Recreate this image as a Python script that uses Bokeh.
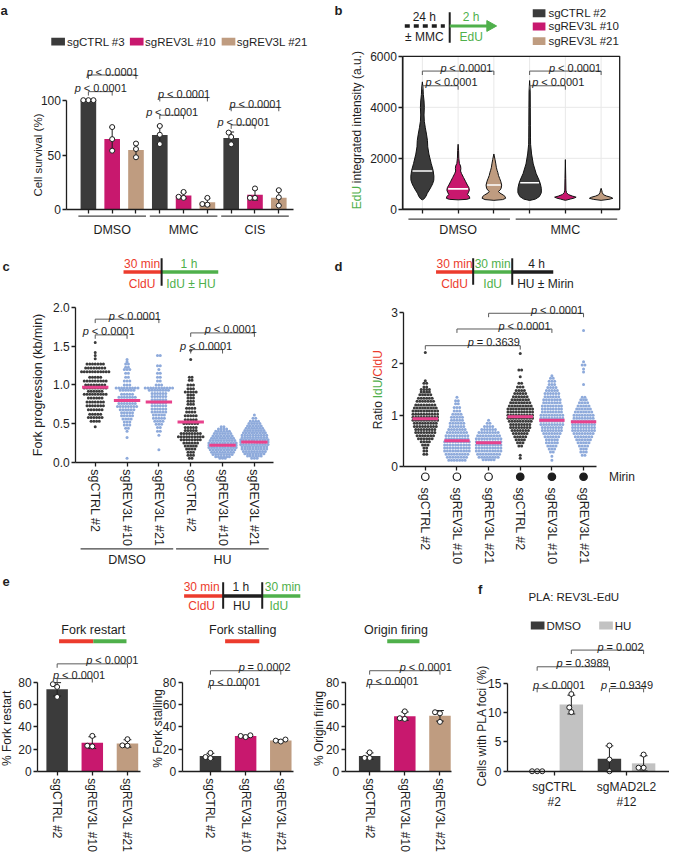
import math
import numpy as np
from bokeh.plotting import figure
from bokeh.models import Range1d, LinearAxis, FixedTicker, NumeralTickFormatter
from bokeh.layouts import row, column
from bokeh.core.properties import value
from bokeh.embed import file_html
from bokeh.resources import INLINE

# ======================= DATA =======================
# (a) cell survival (%), three replicates per bar
a_groups = ["DMSO", "MMC", "CIS"]
a_series = ["sgCTRL #3", "sgREV3L #10", "sgREV3L #21"]
a_dmso = [[100, 100, 100], [75.5, 64.5, 54.0], [60.5, 55.5, 48.0]]
a_mmc = [[76.5, 68.5, 60.0], [16.4, 12.0, 11.0], [11.0, 5.4, 4.8]]
a_cis = [[70.5, 66.5, 59.8], [19.6, 11.0, 11.0], [18.0, 11.5, 4.0]]
a_pvals = ["p < 0.0001"] * 6

# (b) EdU integrated intensity violins: intensity levels and half widths (px)
b_series = ["sgCTRL #2", "sgREV3L #10", "sgREV3L #21"]
b_groups = ["DMSO", "MMC"]
b_ctrl_dmso_y = [372, 400, 436, 520, 628, 750, 885, 1000, 1141, 1300, 1526, 1800, 2165, 2450, 2700, 2950, 3200, 3450, 3700, 4000, 4250, 4500, 4800, 5000]
b_ctrl_dmso_w = [0, 1.5, 2.3, 3.8, 5.0, 7.0, 9.0, 10.5, 11.7, 11.8, 11.0, 9.0, 6.7, 5.5, 5.2, 4.2, 3.0, 2.0, 1.7, 2.0, 1.7, 1.0, 0.6, 0]
b_r10_dmso_y = [370, 390, 430, 500, 580, 650, 750, 850, 950, 1100, 1250, 1400, 1500, 1600, 1700, 1800, 2000, 2300, 2550]
b_r10_dmso_w = [0, 9, 12, 11.5, 9.5, 10.5, 11.5, 11, 9.5, 7.5, 5.5, 3.5, 2.5, 2.8, 2.5, 1.3, 0.7, 0.5, 0]
b_r21_dmso_y = [350, 380, 430, 500, 560, 640, 700, 760, 830, 950, 1100, 1200, 1330, 1450, 1530, 1650, 1780, 1950, 2170]
b_r21_dmso_w = [0, 9, 12, 11.5, 9.5, 6, 4.7, 6.5, 7.5, 8, 7, 6, 4.7, 4, 3.3, 2.5, 2, 1.2, 0]
b_ctrl_mmc_y = [346, 400, 500, 650, 820, 1000, 1140, 1400, 1780, 2170, 2550, 2800, 3300, 4000, 4600, 5050]
b_ctrl_mmc_w = [0, 6, 10, 12, 12, 11, 9.7, 6.7, 3.7, 2, 1, 0.9, 0.8, 0.7, 0.6, 0]
b_r10_mmc_y = [350, 400, 440, 475, 520, 580, 650, 750, 1200, 1950]
b_r10_mmc_w = [0, 5, 9, 11, 7, 3, 1.2, 0.6, 0.4, 0]
b_r21_mmc_y = [350, 390, 430, 470, 520, 570, 650, 750, 821]
b_r21_mmc_w = [0, 8, 12, 10, 5.5, 2.5, 1.2, 0.6, 0]
b_medians = [1500, 800, 950, 1040, None, None]
b_pvals = ["p < 0.0001"] * 4

# (c) fork progression (kb/min): value levels and number of fibres per level
c_labels = ["sgCTRL #2", "sgREV3L #10", "sgREV3L #21"] * 2
c_groups = ["DMSO", "HU"]
c_ctrl_dmso_lv = [1.55, 1.42, 1.38, 1.34, 1.27, 1.22, 1.17, 1.10, 1.05, 1.00, 0.96, 0.92, 0.88, 0.83, 0.78, 0.73, 0.68, 0.62, 0.58, 0.53, 0.46]
c_ctrl_dmso_n = [1, 1, 1, 1, 7, 8, 11, 5, 9, 8, 9, 6, 9, 6, 7, 7, 6, 5, 6, 4, 1]
c_r10_dmso_lv = [1.33, 1.30, 1.27, 1.23, 1.20, 1.15, 1.10, 1.05, 1.00, 0.96, 0.93, 0.88, 0.84, 0.80, 0.76, 0.72, 0.68, 0.64, 0.60, 0.56, 0.52, 0.48, 0.44, 0.40, 0.32, 0.05]
c_r10_dmso_n = [1, 1, 2, 2, 3, 2, 2, 3, 3, 9, 6, 5, 7, 8, 7, 8, 6, 5, 5, 4, 3, 3, 2, 1, 1, 1]
c_r21_dmso_lv = [1.38, 1.25, 1.20, 1.15, 1.10, 1.05, 1.00, 0.96, 0.93, 0.89, 0.85, 0.81, 0.77, 0.73, 0.69, 0.65, 0.61, 0.57, 0.53, 0.49, 0.45, 0.40, 0.35, 0.16]
c_r21_dmso_n = [2, 2, 1, 2, 2, 2, 3, 11, 8, 6, 6, 6, 6, 6, 6, 6, 5, 5, 4, 3, 2, 2, 1, 1]
c_ctrl_hu_lv = [1.45, 1.33, 1.10, 1.06, 1.00, 0.95, 0.91, 0.87, 0.83, 0.79, 0.75, 0.70, 0.65, 0.60, 0.55, 0.50, 0.45, 0.41, 0.37, 0.33, 0.29, 0.25, 0.21, 0.17, 0.13, 0.09, 0.05]
c_ctrl_hu_n = [1, 1, 2, 2, 3, 3, 5, 3, 3, 3, 3, 4, 4, 5, 5, 6, 5, 5, 8, 10, 8, 6, 5, 4, 3, 3, 2]
c_r10_hu_lv = [0.46, 0.43, 0.40, 0.37, 0.34, 0.31, 0.28, 0.25, 0.22, 0.19, 0.16, 0.13, 0.10, 0.07, 0.05]
c_r10_hu_n = [2, 4, 6, 7, 8, 9, 10, 11, 11, 11, 10, 9, 8, 6, 3]
c_r21_hu_lv = [0.61, 0.57, 0.53, 0.50, 0.47, 0.44, 0.41, 0.38, 0.35, 0.32, 0.29, 0.26, 0.23, 0.20, 0.17, 0.14, 0.11, 0.08, 0.05]
c_r21_hu_n = [1, 2, 4, 5, 6, 7, 8, 9, 10, 10, 11, 11, 11, 10, 10, 9, 8, 6, 3]
c_means = [0.97, 0.80, 0.78, 0.52, 0.22, 0.26]
c_pvals = ["p < 0.0001"] * 4

# (d) ratio IdU/CldU: value levels and number of fibres per level
d_labels = ["sgCTRL #2", "sgREV3L #10", "sgREV3L #21"] * 2
d_mirin = [False, False, False, True, True, True]
d_ctrl_lv = [2.22, 1.67, 1.62, 1.55, 1.50, 1.45, 1.40, 1.33, 1.27, 1.20, 1.14, 1.08, 1.02, 0.96, 0.90, 0.84, 0.78, 0.72, 0.66, 0.60, 0.54, 0.48, 0.42, 0.36, 0.30, 0.24]
d_ctrl_n = [1, 1, 2, 2, 4, 4, 5, 6, 7, 8, 9, 10, 10, 10, 10, 9, 9, 8, 8, 7, 6, 4, 3, 2, 2, 2]
d_r10_lv = [1.35, 1.28, 1.22, 1.15, 1.08, 1.02, 0.96, 0.90, 0.84, 0.78, 0.72, 0.66, 0.60, 0.54, 0.48, 0.42, 0.36, 0.30, 0.24, 0.18, 0.12]
d_r10_n = [1, 2, 2, 3, 3, 4, 5, 5, 6, 6, 7, 8, 9, 9, 10, 10, 10, 10, 9, 8, 7]
d_r21_lv = [0.90, 0.84, 0.78, 0.72, 0.66, 0.60, 0.54, 0.48, 0.42, 0.36, 0.30, 0.24, 0.18, 0.13]
d_r21_n = [1, 2, 4, 6, 8, 9, 10, 10, 10, 10, 10, 9, 8, 5]
d_ctrlm_lv = [2.20, 1.88, 1.75, 1.62, 1.55, 1.48, 1.42, 1.36, 1.30, 1.24, 1.18, 1.12, 1.06, 1.00, 0.94, 0.88, 0.82, 0.76, 0.70, 0.64, 0.58, 0.52, 0.46, 0.40, 0.22, 0.16]
d_ctrlm_n = [1, 2, 1, 2, 3, 4, 5, 6, 7, 8, 9, 10, 10, 10, 10, 9, 8, 8, 7, 6, 5, 4, 3, 2, 1, 1]
d_r10m_lv = [1.77, 1.72, 1.66, 1.60, 1.54, 1.48, 1.42, 1.36, 1.30, 1.24, 1.18, 1.12, 1.06, 1.00, 0.94, 0.88, 0.82, 0.76, 0.70, 0.64, 0.58, 0.52, 0.46, 0.40, 0.34, 0.28, 0.20, 0.12]
d_r10m_n = [1, 2, 3, 3, 4, 5, 6, 6, 7, 7, 8, 8, 8, 9, 9, 9, 9, 8, 8, 7, 6, 5, 5, 4, 3, 2, 1, 1]
d_r21m_lv = [2.65, 2.04, 1.98, 1.90, 1.84, 1.60, 1.35, 1.30, 1.24, 1.18, 1.12, 1.06, 1.00, 0.94, 0.88, 0.82, 0.76, 0.70, 0.64, 0.58, 0.52, 0.46, 0.40, 0.34, 0.28, 0.22]
d_r21m_n = [1, 1, 2, 1, 1, 1, 2, 3, 4, 5, 6, 7, 8, 8, 9, 9, 9, 9, 8, 7, 6, 5, 4, 3, 3, 2]
d_means = [0.93, 0.50, 0.46, 0.97, 0.90, 0.87]
d_pvals = ["p = 0.3639", "p < 0.0001", "p < 0.0001"]

# (e) fork restart / stalling / origin firing (%), three replicates
e_labels = ["sgCTRL #2", "sgREV3L #10", "sgREV3L #21"]
e_titles = ["Fork restart", "Fork stalling", "Origin firing"]
e_restart = [[78.5, 76.0, 67.0], [31.9, 23.0, 22.4], [28.9, 23.3, 23.0]]
e_stalling = [[16.5, 12.8, 11.8], [32.4, 31.8, 30.8], [28.6, 27.6, 26.8]]
e_firing = [[17.0, 12.0, 12.0], [54.0, 47.8, 47.2], [53.2, 52.2, 44.5]]
e_pvals = [["p < 0.0001", "p < 0.0001"], ["p < 0.0001", "p = 0.0002"], ["p < 0.0001", "p < 0.0001"]]

# (f) PLA REV3L-EdU, cells with PLA foci (%)
f_groups = [["sgCTRL", "#2"], ["sgMAD2L2", "#12"]]
f_treat = ["DMSO", "HU"]
f_ctrl = [[0.0, 0.0, 0.0], [13.2, 10.9, 10.1]]
f_mad = [[4.4, 2.0, 0.0], [2.85, 0.6, 0.6]]
f_pvals = ["p < 0.0001", "p = 0.3989", "p = 0.002", "p = 0.9349"]

# ======================= STYLE =======================
FONT = "Liberation Sans"
INK = "#1e1e1e"
DARK = "#3b3b3b"
MAG = "#c8186e"
TAN = "#bf9c80"
LGRAY = "#c2c2c2"
BLUE = "#8eaadb"
PINK = "#e8428c"
RED = "#ec3b2d"
GREEN = "#4fb04b"
BRK = "#5a5a5a"
GRID = "#e8e8e8"
VERT = math.pi / 2

AW = {' ': .278, '<': .584, '=': .584, '.': .278, 'p': .556, 'E': .667, 'd': .556, 'U': .722,
      'R': .722, 'a': .556, 't': .278, 'i': .222, 'o': .556, 'I': .278, '/': .278, 'C': .722, 'l': .222}


def tw(s, fs):
    return sum(AW.get(ch, .556) for ch in s) * fs


def X(v):
    return int(round(v * 669 / 685))


def Y(v):
    return int(round(v * 852 / 868))


def cal(pa, va, pb, vb):
    k = (vb - va) / (pb - pa)
    return lambda q: va + (q - pa) * k


def make_panel(x0, x1, y0, y1, fx, fy):
    p = figure(width=X(x1) - X(x0), height=Y(y1) - Y(y0),
               x_range=Range1d(fx(x0), fx(x1)), y_range=Range1d(fy(y1), fy(y0)),
               x_axis_location=None, y_axis_location=None, toolbar_location=None,
               output_backend="svg", min_border=0, outline_line_color=None,
               background_fill_color="white", border_fill_color="white")
    p.extra_x_ranges = {"px": Range1d(x0, x1)}
    p.extra_y_ranges = {"py": Range1d(y1, y0)}
    p.grid.grid_line_color = None
    p.grid.visible = False
    return p


def T(p, x, y, s, size=12, color=INK, align="center", base="middle", style="normal", angle=0.0, xdata=False):
    kw = dict(y_range_name="py")
    if not xdata:
        kw["x_range_name"] = "px"
    p.text(x=[x], y=[y], text=[s], text_font=value(FONT), text_font_size=value("%gpx" % size),
           text_color=color, text_align=align, text_baseline=base, text_font_style=style,
           angle=angle, **kw)


def L(p, xs, ys, color=INK, w=1.0, dash="solid", xdata=False):
    kw = dict(y_range_name="py")
    if not xdata:
        kw["x_range_name"] = "px"
    p.line(x=xs, y=ys, line_color=color, line_width=w, line_dash=dash, **kw)


def ptext(p, xc, ypx, label, kx, fs=11):
    w = tw(label, fs)
    left = xc - w / 2.0 / kx
    common = dict(y_range_name="py", text_font=value(FONT), text_font_size=value("%gpx" % fs),
                  text_color=INK, text_align="left", text_baseline="alphabetic")
    p.text(x=[left], y=[ypx], text=[label[0]], text_font_style="italic", **common)
    rest = label[1:]
    lead = len(rest) - len(rest.lstrip())
    p.text(x=[left + tw(label[:1 + lead], fs) / kx], y=[ypx], text=[rest.lstrip()],
           text_font_style="normal", **common)


def bracket(p, xa, xb, ypx, label, kx, dx=0.0, fs=11):
    p.line(x=[xa, xa, xb, xb], y=[ypx + 4, ypx, ypx, ypx + 4], y_range_name="py",
           line_color=BRK, line_width=1)
    ptext(p, (xa + xb) / 2.0 + dx / kx, ypx - 3.5, label, kx, fs)


def axis(p, side, loc, bounds, ticks, fs=12, standoff=2, overrides=None, orient=None,
         hide_labels=False, formatter=None):
    ax = LinearAxis(fixed_location=loc, bounds=bounds,
                    ticker=FixedTicker(ticks=ticks, minor_ticks=[]))
    ax.axis_line_color = INK
    ax.axis_line_width = 1.3
    ax.major_tick_line_color = INK
    ax.major_tick_line_width = 1.3
    ax.major_tick_out = 4
    ax.major_tick_in = 0
    ax.minor_tick_line_color = None
    ax.major_label_text_font = FONT
    ax.major_label_text_font_size = "%gpx" % fs
    ax.major_label_text_color = INK
    ax.major_label_standoff = standoff
    if formatter is not None:
        ax.formatter = formatter
    if hide_labels:
        ax.major_label_overrides = {t: "" for t in ticks}
    elif overrides:
        ax.major_label_overrides = overrides
    if orient is not None:
        ax.major_label_orientation = orient
    p.add_layout(ax, side)
    return ax


def swarm(ypix, d):
    ypix = np.asarray(ypix, float)
    order = np.argsort(ypix, kind="stable")
    pxs, pys = [], []
    out = np.zeros(len(ypix))
    for i in order:
        y = ypix[i]
        near = [(xj, yj) for xj, yj in zip(pxs, pys) if abs(yj - y) < d]
        cands = [0.0]
        for xj, yj in near:
            dx = math.sqrt(max(d * d - (y - yj) ** 2, 0.0))
            cands += [xj - dx, xj + dx]
        cands.sort(key=lambda c: (round(abs(c), 6), c))
        for c in cands:
            if all((c - xj) ** 2 + (y - yj) ** 2 >= d * d - 1e-6 for xj, yj in near):
                out[i] = c
                break
        pxs.append(out[i])
        pys.append(y)
    return out


def row_offsets(counts, d):
    out = []
    for n in counts:
        out.extend((np.arange(n) - (n - 1) / 2.0) * d)
    return np.array(out)


def bars(p, xs, pts_list, colors, width, kx, ky, cap=3.0, dot=5.2):
    means = [float(np.mean(v)) for v in pts_list]
    sds = [float(np.std(v, ddof=1)) for v in pts_list]
    p.vbar(x=xs, top=means, width=width, fill_color=colors, line_color=None)
    for x, m, s in zip(xs, means, sds):
        if s > 0.05:
            p.segment(x0=[x, x - cap / kx, x - cap / kx], y0=[m - s, m - s, m + s],
                      x1=[x, x + cap / kx, x + cap / kx], y1=[m + s, m - s, m + s],
                      line_color=INK, line_width=1)
    for x, v in zip(xs, pts_list):
        off = swarm(np.array(v) * ky, dot)
        p.scatter(x=list(x + off / kx), y=list(v), size=5, fill_color="white",
                  line_color=INK, line_width=1)


def dot_rows(lv, n, d=2.8):
    vals = np.repeat(np.array(lv, float), n)
    return vals, row_offsets(n, d)


# ======================= PANEL A =======================
fxa = cal(90, 0, 285, 8)
fya = cal(213.7, 0, 101.7, 100)
KXA, KYA = 195 / 8.0, 112 / 100.0
pa = make_panel(0, 340, 0, 252, fxa, fya)
a_colors = [DARK, MAG, TAN]
xs, pts, cols = [], [], []
for g, grp in enumerate([a_dmso, a_mmc, a_cis]):
    for s, v in enumerate(grp):
        xs.append(3 * g + s)
        pts.append(v)
        cols.append(a_colors[s])
bars(pa, xs, pts, cols, 16 / KXA, KXA, KYA, cap=3)
axis(pa, "left", fxa(68), (0, 100), [0, 50, 100])
axis(pa, "below", 0, (fxa(68), fxa(300)), list(range(9)), hide_labels=True)
T(pa, 38, 157.7, "Cell survival (%)", 11.5, angle=VERT)
a_br = [(0, 1, 93), (0, 2, 76), (3, 4, 117), (3, 5, 99), (6, 7, 127), (6, 8, 109)]
for (i, j, yp), lab in zip(a_br, a_pvals):
    bracket(pa, i, j, yp, lab, KXA)
for g, name in enumerate(a_groups):
    L(pa, [3 * g - 0.42, 3 * g + 2.42], [220, 220], color="#444", w=1.2, xdata=True)
    T(pa, 3 * g + 1, 234, name, size=12.5, xdata=True)
for (sx, tx), name, c in zip([(59, 68), (139.5, 148), (233.5, 242)], a_series, a_colors):
    pa.rect(x=[sx], y=[42], width=14, height=8, x_range_name="px", y_range_name="py",
            fill_color=c, line_color=None)
    T(pa, tx, 42, name, size=11.5, align="left")
T(pa, 0, 10, "a", size=13, style="bold", align="left", base="alphabetic")

# ======================= PANEL B =======================
fxb = cal(432, 0, 615, 5)
fyb = cal(213, 0, 57, 6000)
KXB = 183 / 5.0
pb = make_panel(340, 685, 0, 252, fxb, fyb)
xlo, xhi = fxb(412), fxb(634)
pb.segment(x0=[xlo, xlo], y0=[2000, 4000], x1=[xhi, xhi], y1=[2000, 4000], line_color=GRID, line_width=1)
pb.segment(x0=list(range(6)), y0=[0] * 6, x1=list(range(6)), y1=[6000] * 6, line_color=GRID, line_width=1)
b_profiles = [(b_ctrl_dmso_y, b_ctrl_dmso_w), (b_r10_dmso_y, b_r10_dmso_w), (b_r21_dmso_y, b_r21_dmso_w),
              (b_ctrl_mmc_y, b_ctrl_mmc_w), (b_r10_mmc_y, b_r10_mmc_w), (b_r21_mmc_y, b_r21_mmc_w)]
b_colors = [DARK, MAG, TAN] * 2
for i, ((vy, vw), col, med) in enumerate(zip(b_profiles, b_colors, b_medians)):
    vy = np.array(vy, float)
    vw = np.array(vw, float) / KXB
    pxs = np.concatenate([i + vw, (i - vw)[::-1]])
    pys = np.concatenate([vy, vy[::-1]])
    pb.patch(x=list(pxs), y=list(pys), fill_color=col, line_color="#111111", line_width=1)
    if med is not None:
        mw = float(np.interp(med, vy, vw)) - 1.0 / KXB
        pb.segment(x0=[i - mw], y0=[med], x1=[i + mw], y1=[med], line_color="white", line_width=1.6)
pb.quad(left=[412], right=[634], top=[57], bottom=[213], x_range_name="px", y_range_name="py",
        fill_color=None, line_color=INK, line_width=1.3)
axis(pb, "left", xlo, (0, 6000), [0, 2000, 4000, 6000])
axis(pb, "below", 0, (xlo, xhi), list(range(6)), hide_labels=True)
b_br = [(0, 1, 87, 11), (0, 2, 72, 8), (3, 4, 87, 10.5), (3, 5, 72, 9.5)]
for (i, j, yp, dx), lab in zip(b_br, b_pvals):
    bracket(pb, i, j, yp, lab, KXB, dx)
for g, name in enumerate(b_groups):
    L(pb, [3 * g - 0.39, 3 * g + 2.45], [223, 223], color="#444", w=1.2, xdata=True)
    T(pb, 3 * g + 1, 234, name, size=12.5, xdata=True)
T(pb, 365, 213, "EdU", size=12, color=GREEN, align="left", angle=VERT)
T(pb, 365, 213 - tw("EdU ", 12), "integrated intensity (a.u.)", size=12, align="left", angle=VERT)
for yy, name, c in zip([13, 26.5, 41.5], b_series, [DARK, MAG, TAN]):
    pb.rect(x=[551.5], y=[yy], width=13, height=8, x_range_name="px", y_range_name="py",
            fill_color=c, line_color=None)
    T(pb, 561, yy, name, size=11.5, align="left")
T(pb, 434, 17, "24 h", 12)
L(pb, [414, 455], [26, 26], w=3.5, dash="5 4")
T(pb, 434, 37, "\u00b1 MMC", 12)
L(pb, [460, 460], [12, 43], w=2)
L(pb, [460, 500], [26, 26], color=GREEN, w=3)
pb.patch(x=[498, 498, 508], y=[20.5, 31.5, 26], x_range_name="px", y_range_name="py",
         fill_color=GREEN, line_color=GREEN)
T(pb, 482, 17, "2 h", 12, color=GREEN)
T(pb, 482, 37, "EdU", 12, color=GREEN)
T(pb, 342, 10, "b", size=13, style="bold", align="left", base="alphabetic")

# ======================= PANEL C =======================
R2 = 581
fxc = cal(97, 0, 260, 5)
fyc = cal(470.7, 0, 313.3, 2.0)
KXC, KYC = 163 / 5.0, 157.4 / 2.0
pc = make_panel(0, 340, 252, R2, fxc, fyc)
c_lv = [c_ctrl_dmso_lv, c_r10_dmso_lv, c_r21_dmso_lv, c_ctrl_hu_lv, c_r10_hu_lv, c_r21_hu_lv]
c_n = [c_ctrl_dmso_n, c_r10_dmso_n, c_r21_dmso_n, c_ctrl_hu_n, c_r10_hu_n, c_r21_hu_n]
dot_cols = [DARK, BLUE, BLUE, DARK, BLUE, BLUE]
for i, (lv, n, col, m) in enumerate(zip(c_lv, c_n, dot_cols, c_means)):
    vals, off = dot_rows(lv, n)
    pc.scatter(x=list(i + off / KXC), y=list(vals), size=3, fill_color=col, line_color=None)
    pc.segment(x0=[i - 13.5 / KXC], y0=[m], x1=[i + 13.5 / KXC], y1=[m], line_color=PINK, line_width=3)
axis(pc, "left", fxc(77), (0, 2), [0, 0.5, 1, 1.5, 2], formatter=NumeralTickFormatter(format="0.0"))
axis(pc, "below", 0, (fxc(77), fxc(280)), list(range(6)), fs=12.5,
     overrides={i: lab for i, lab in enumerate(c_labels)}, orient="vertical", standoff=3)
T(pc, 38, 392, "Fork progression (kb/min)", 12.5, angle=VERT)
c_br = [(0, 1, 341, -3), (0, 2, 325, 7.5), (3, 4, 356, -1), (3, 5, 339, 8)]
for (i, j, yp, dx), lab in zip(c_br, c_pvals):
    bracket(pc, i, j, yp, lab, KXC, dx)
for g, name in enumerate(c_groups):
    L(pc, [3 * g - 0.46, 3 * g + 2.45], [559, 559], color="#444", w=1.2, xdata=True)
    T(pc, 3 * g + 1, 570, name, size=12.5, xdata=True)
L(pc, [126, 165], [277, 277], color=RED, w=3.5)
L(pc, [165, 223], [277, 277], color=GREEN, w=3.5)
L(pc, [165, 165], [263, 291], w=2)
T(pc, 145, 268.5, "30 min", 12, color=RED)
T(pc, 145, 289, "CldU", 12, color=RED)
T(pc, 193, 268.5, "1 h", 12, color=GREEN)
T(pc, 195, 289, "IdU \u00b1 HU", 12, color=GREEN)
T(pc, 2, 271, "c", size=13, style="bold", align="left", base="alphabetic")

# ======================= PANEL D =======================
fxd = cal(435, 0, 597, 5)
fyd = cal(475, 0, 318.3, 3)
KXD, KYD = 162 / 5.0, 156.7 / 3.0
pd_ = make_panel(340, 685, 252, R2, fxd, fyd)
d_lv = [d_ctrl_lv, d_r10_lv, d_r21_lv, d_ctrlm_lv, d_r10m_lv, d_r21m_lv]
d_n = [d_ctrl_n, d_r10_n, d_r21_n, d_ctrlm_n, d_r10m_n, d_r21m_n]
for i, (lv, n, col, m) in enumerate(zip(d_lv, d_n, dot_cols, d_means)):
    vals, off = dot_rows(lv, n)
    pd_.scatter(x=list(i + off / KXD), y=list(vals), size=3, fill_color=col, line_color=None)
    pd_.segment(x0=[i - 13 / KXD], y0=[m], x1=[i + 13 / KXD], y1=[m], line_color=PINK, line_width=3)
axis(pd_, "left", fxd(413), (0, 3), [0, 1, 2, 3])
axis(pd_, "below", 0, (fxd(413), fxd(610)), list(range(6)), fs=12.5,
     overrides={i: lab for i, lab in enumerate(d_labels)}, orient="vertical", standoff=17)
open_x = [i for i, mi in enumerate(d_mirin) if not mi]
full_x = [i for i, mi in enumerate(d_mirin) if mi]
pd_.scatter(x=open_x, y=[485.5] * len(open_x), y_range_name="py", size=7.5, fill_color="white",
            line_color=INK, line_width=1.2)
pd_.scatter(x=full_x, y=[485.5] * len(full_x), y_range_name="py", size=7.5, fill_color=INK,
            line_color=INK, line_width=1.2)
T(pd_, 623, 486, "Mirin", 12, align="left")
d_br = [(0, 3, 352, 21), (1, 4, 335, 20), (2, 5, 319, 21)]
for (i, j, yp, dx), lab in zip(d_br, d_pvals):
    bracket(pd_, i, j, yp, lab, KXD, dx)
ystart = 437
for piece, col in [("Ratio ", INK), ("IdU", GREEN), ("/", INK), ("CldU", RED)]:
    T(pd_, 387, ystart, piece.strip(), 12, color=col, align="left", angle=VERT)
    ystart -= tw(piece, 12)
L(pd_, [446, 484], [277, 277], color=RED, w=3.5)
L(pd_, [484, 524], [277, 277], color=GREEN, w=3.5)
L(pd_, [524, 566], [277, 277], w=3.5)
L(pd_, [484, 484], [263, 290], w=2)
L(pd_, [524, 524], [263, 290], w=2)
T(pd_, 465, 268.5, "30 min", 12, color=RED)
T(pd_, 504, 268.5, "30 min", 12, color=GREEN)
T(pd_, 549, 268.5, "4 h", 12)
T(pd_, 465, 289, "CldU", 12, color=RED)
T(pd_, 504, 289, "IdU", 12, color=GREEN)
T(pd_, 558, 289, "HU \u00b1 Mirin", 12)
T(pd_, 342, 271, "d", size=13, style="bold", align="left", base="alphabetic")

# ======================= PANEL E =======================
ident = lambda q: q
fye = cal(785.3, 0, 695, 80)
KYE = 90.3 / 80.0
pe = make_panel(0, 470, R2, 868, ident, fye)
e_axis_x = [38, 186, 353]
e_first = [58, 215, 378]
e_end = [143, 300, 462]
e_title_x = [95, 248, 405]
e_ylab_x = [7, 161, 326]
e_br = [[(0, 1, 691, 4), (0, 2, 676, 20)], [(0, 1, 698, 6), (0, 2, 683, 19)], [(0, 1, 697, 5), (0, 2, 683, 21)]]
E_SP = 35.8
for k, (pts3, title) in enumerate(zip([e_restart, e_stalling, e_firing], e_titles)):
    exs = [int(round(e_first[k] + E_SP * i)) for i in range(3)]
    bars(pe, exs, pts3, [DARK, MAG, TAN], 22, 1.0, KYE, cap=4)
    axis(pe, "left", e_axis_x[k], (0, 80), [0, 20, 40, 60, 80])
    axis(pe, "below", 0, (e_axis_x[k], e_end[k]), exs, fs=12,
         overrides={x: lab for x, lab in zip(exs, e_labels)}, orient="vertical", standoff=3)
    T(pe, e_ylab_x[k], 740, "%  " + title, 12, angle=VERT)
    for (i, j, yp, dx), lab in zip(e_br[k], e_pvals[k]):
        bracket(pe, exs[i], exs[j], yp, lab, 1.0, dx)
    T(pe, e_title_x[k], 642, title, 12.5)
L(pe, [60, 95], [653, 653], color=RED, w=4)
L(pe, [95, 129], [653, 653], color=GREEN, w=4)
L(pe, [230, 265], [653, 653], color=RED, w=4)
L(pe, [396, 429], [653, 653], color=GREEN, w=4)
L(pe, [188, 228], [607, 607], color=RED, w=3.5)
L(pe, [228, 268], [607, 607], w=3.5)
L(pe, [268, 307], [607, 607], color=GREEN, w=3.5)
L(pe, [228, 228], [593, 620], w=2)
L(pe, [268, 268], [593, 620], w=2)
T(pe, 206, 597.5, "30 min", 12, color=RED)
T(pe, 206, 617, "CldU", 12, color=RED)
T(pe, 246, 597.5, "1 h", 12)
T(pe, 247, 617, "HU", 12)
T(pe, 289, 597.5, "30 min", 12, color=GREEN)
T(pe, 285, 617, "IdU", 12, color=GREEN)
T(pe, 2, 592, "e", size=13, style="bold", align="left", base="alphabetic")

# ======================= PANEL F =======================
fyf = cal(785.3, 0, 696, 15)
KYF = 89.3 / 15.0
pf = make_panel(470, 685, R2, 868, ident, fyf)
f_centers = [567, 641]
F_OFF = 17.5
fxs = [f_centers[0] - F_OFF, f_centers[0] + F_OFF, f_centers[1] - F_OFF, f_centers[1] + F_OFF]
bars(pf, fxs, [f_ctrl[0], f_ctrl[1], f_mad[0], f_mad[1]], [DARK, LGRAY, DARK, LGRAY], 24, 1.0, KYF, cap=4)
axis(pf, "left", 519, (0, 15), [0, 5, 10, 15])
axis(pf, "below", 0, (519, 685), f_centers, hide_labels=True)
T(pf, 493, 739, "Cells with PLA foci (%)", 12, angle=VERT)
f_br = [(0, 1, 701, 4.5), (0, 2, 679, 9), (1, 3, 662, 13), (2, 3, 701, 0)]
for (i, j, yp, dx), lab in zip(f_br, f_pvals):
    bracket(pf, fxs[i], fxs[j], yp, lab, 1.0, dx)
for cx, (l1, l2) in zip(f_centers, f_groups):
    T(pf, cx, 801, l1, 12)
    T(pf, cx, 817, l2, 12)
for (sx, tx), name, c in zip([(550, 559), (620, 629)], f_treat, [DARK, LGRAY]):
    pf.rect(x=[sx], y=[637], width=14, height=8, x_range_name="px", y_range_name="py",
            fill_color=c, line_color=None)
    T(pf, tx, 637, name, size=11.5, align="left")
T(pf, 587, 608, "PLA: REV3L-EdU", 11.5)
T(pf, 489, 600, "f", size=13, style="bold", align="left", base="alphabetic")

layout = column(row(pa, pb), row(pc, pd_), row(pe, pf))
open("out.html", "w").write(file_html(layout, INLINE))
